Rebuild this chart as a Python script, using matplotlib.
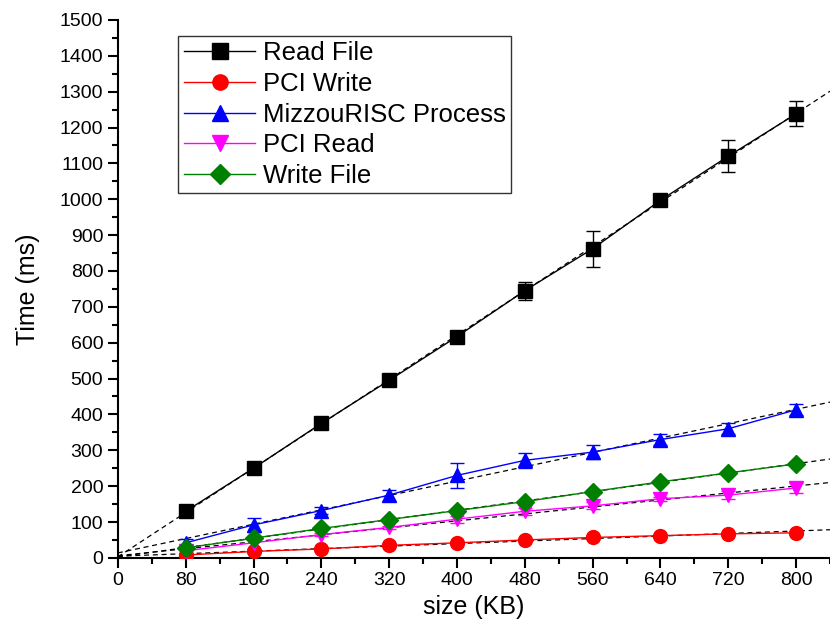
import numpy as np
import matplotlib
matplotlib.use("Agg")
import matplotlib.pyplot as plt
from matplotlib.ticker import MultipleLocator
from matplotlib.lines import Line2D

plt.rcParams['font.family'] = ['Liberation Sans', 'DejaVu Sans']

sizes = [80, 160, 240, 320, 400, 480, 560, 640, 720, 800]
read_file = [130, 250, 375, 495, 617, 745, 862, 997, 1120, 1238]
read_file_err = [5, 5, 5, 5, 5, 25, 50, 5, 45, 35]
pci_write = [8, 18, 25, 35, 42, 50, 57, 62, 67, 70]
pci_write_err = [3, 3, 3, 3, 3, 3, 3, 3, 3, 3]
mizzou = [42, 92, 132, 175, 230, 272, 295, 330, 360, 413]
mizzou_err = [10, 20, 10, 15, 35, 20, 20, 15, 15, 15]
pci_read = [20, 42, 65, 85, 108, 130, 145, 165, 175, 195]
pci_read_err = [5, 20, 5, 5, 10, 10, 10, 5, 12, 15]
write_file = [28, 55, 82, 107, 132, 157, 185, 212, 237, 262]
write_file_err = [3, 3, 3, 3, 3, 3, 3, 3, 3, 3]

series = [
    ("Read File", read_file, read_file_err, "black", "s"),
    ("PCI Write", pci_write, pci_write_err, "red", "o"),
    ("MizzouRISC Process", mizzou, mizzou_err, "blue", "^"),
    ("PCI Read", pci_read, pci_read_err, "magenta", "v"),
    ("Write File", write_file, write_file_err, "green", "D"),
]

fig = plt.figure(figsize=(8.30, 6.42), dpi=100)
ax = fig.add_axes([0.142, 0.131, 0.858, 0.838])

xmax = 840
xs = np.array([0, xmax])
handles = []
for name, ys, err, col, mk in series:
    ms = 9 if mk == "D" else 10
    ax.errorbar(sizes, ys, yerr=err, color=col, marker=mk, markersize=ms,
                linewidth=1, capsize=5, elinewidth=1, zorder=3)
    handles.append(Line2D([], [], color=col, marker=mk, markersize=ms + 1,
                          linewidth=1, label=name))
for name, ys, err, col, mk in series:
    k, b = np.polyfit(sizes, ys, 1)
    ax.plot(xs, k * xs + b, color="black", linestyle=(0, (4, 3)), linewidth=0.9, zorder=2)

ax.set_xlim(0, xmax)
ax.set_ylim(0, 1500)
ax.xaxis.set_major_locator(MultipleLocator(80))
ax.xaxis.set_minor_locator(MultipleLocator(40))
ax.yaxis.set_major_locator(MultipleLocator(100))
ax.yaxis.set_minor_locator(MultipleLocator(50))
ax.spines['top'].set_visible(False)
ax.spines['right'].set_visible(False)
ax.spines['left'].set_linewidth(1.5)
ax.spines['bottom'].set_linewidth(1.5)
ax.tick_params(which='major', direction='out', length=7, width=1.5, labelsize=14)
ax.tick_params(which='minor', direction='out', length=4, width=1.5)
ax.set_xlabel("size (KB)", fontsize=18)
ax.set_ylabel("Time (ms)", fontsize=18, labelpad=14)

leg = ax.legend(handles=handles, loc='upper left', bbox_to_anchor=(0.085, 0.97), fontsize=18.5,
                frameon=True, fancybox=False, edgecolor='black', handlelength=2.8,
                borderpad=0.2, labelspacing=0.26, handletextpad=0.3, borderaxespad=0)
leg.get_frame().set_linewidth(1.0)

fig.savefig("out.png", dpi=100)
